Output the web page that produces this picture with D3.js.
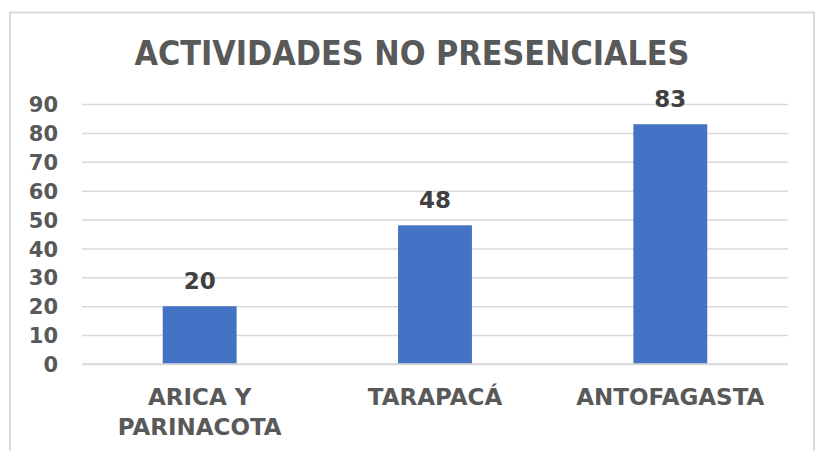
<!DOCTYPE html>
<html lang="es">
<head>
<meta charset="UTF-8">
<title>Actividades no presenciales</title>
<script src="https://d3js.org/d3.v7.min.js"></script>
<style>
  body { margin: 0; background: #fff; }
  text { font-family: "DejaVu Sans", "Open Sans", sans-serif; font-weight: bold; }
</style>
</head>
<body>
<div id="chart"></div>
<script>
// data
const regions = [["ARICA Y", "PARINACOTA"], ["TARAPACÁ"], ["ANTOFAGASTA"]];
const counts = [20, 48, 83];
const yTicks = [0, 10, 20, 30, 40, 50, 60, 70, 80, 90];
const title = "ACTIVIDADES NO PRESENCIALES";

const W = 820, H = 451;
const margin = {top: 104, right: 32, bottom: 87, left: 82};
const width = W - margin.left - margin.right,
      height = H - margin.top - margin.bottom;

const svg = d3.select("#chart").append("svg")
    .attr("width", W).attr("height", H);

// outer frame
svg.append("rect")
    .attr("x", 10).attr("y", 12.5)
    .attr("width", 804).attr("height", 460)
    .attr("fill", "none").attr("stroke", "#d9d9d9").attr("stroke-width", 2);

svg.append("text")
    .attr("x", 412).attr("y", 65)
    .attr("text-anchor", "middle")
    .attr("fill", "#595959")
    .attr("font-size", 34)
    .attr("textLength", 555).attr("lengthAdjust", "spacingAndGlyphs")
    .text(title);

const g = svg.append("g").attr("transform", `translate(${margin.left},${margin.top})`);

const x = d3.scaleBand()
    .domain(regions.map((d, i) => i))
    .range([0, width])
    .paddingInner(0.686).paddingOuter(0.343);

const y = d3.scaleLinear().domain([0, 90]).range([height, 0]);

// gridlines
g.append("g")
    .call(d3.axisLeft(y).tickValues(yTicks).tickSize(-width).tickFormat(""))
    .call(a => a.select(".domain").remove())
    .call(a => a.selectAll("line").attr("stroke", "#d9d9d9").attr("stroke-width", 1.5));

// y labels
g.append("g")
    .call(d3.axisLeft(y).tickValues(yTicks).tickSize(0).tickPadding(24))
    .call(a => a.select(".domain").remove())
    .call(a => a.selectAll("text")
        .attr("fill", "#595959").attr("font-size", 21)
        .attr("dy", "0.36em")
        .style("font-family", "'DejaVu Sans', sans-serif").style("font-weight", "bold"));

// bars
g.selectAll(".bar").data(counts).join("rect")
    .attr("class", "bar")
    .attr("x", (d, i) => x(i))
    .attr("y", d => y(d))
    .attr("width", x.bandwidth())
    .attr("height", d => y(0) - y(d))
    .attr("fill", "#4472c4");

// value labels
g.selectAll(".val").data(counts).join("text")
    .attr("class", "val")
    .attr("x", (d, i) => x(i) + x.bandwidth() / 2)
    .attr("y", d => y(d) - 17)
    .attr("text-anchor", "middle")
    .attr("fill", "#404040")
    .attr("font-size", 23)
    .text(d => d);

// x axis line
g.append("line")
    .attr("x1", 0).attr("x2", width)
    .attr("y1", y(0)).attr("y2", y(0))
    .attr("stroke", "#d9d9d9").attr("stroke-width", 1.5);

// category labels
const cat = g.selectAll(".cat").data(regions).join("text")
    .attr("class", "cat")
    .attr("text-anchor", "middle")
    .attr("fill", "#595959")
    .attr("font-size", 23)
    .attr("x", (d, i) => x(i) + x.bandwidth() / 2)
    .attr("y", height + 41);
cat.selectAll("tspan").data(d => d).join("tspan")
    .attr("x", function() { return this.parentNode.getAttribute("x"); })
    .attr("dy", (d, i) => i === 0 ? 0 : 30)
    .text(d => d);
</script>
</body>
</html>
